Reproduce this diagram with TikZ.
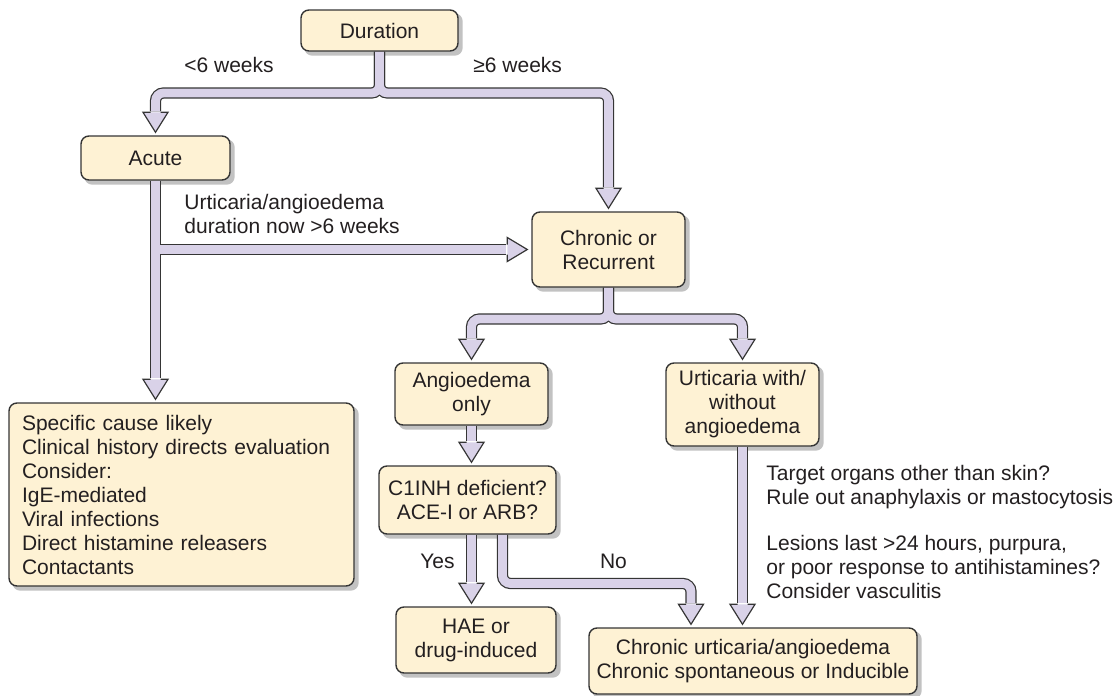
\documentclass[tikz,border=0pt]{standalone}
\usepackage{fontspec}
\setmainfont{Liberation Sans}
\usetikzlibrary{calc}
\definecolor{boxc}{HTML}{FEF2D4}
\definecolor{lav}{HTML}{D9D2E8}
\definecolor{edgec}{HTML}{353535}
\definecolor{txtc}{HTML}{231F20}
\definecolor{shad}{HTML}{C2C2C2}
\pgfdeclarelayer{shadowl}
\pgfdeclarelayer{pipel}
\pgfsetlayers{shadowl,pipel,main}
\tikzset{
  box/.style={draw=edgec, fill=boxc, rounded corners=4pt, line width=0.7pt, text=txtc, align=center, inner sep=0pt},
  lbl/.style={text=txtc, inner sep=0pt},
  pipeout/.style={draw=edgec, line width=5.6pt, rounded corners=4pt},
  pipein/.style={draw=lav, line width=4.4pt, rounded corners=4pt},
  tipline/.style={draw=edgec, line width=0.6pt, line join=miter},
  every node/.style={font=\fontsize{10.5}{12}\selectfont}
}
\newcommand\tipdown[1]{%
  \fill[lav] ($(#1)+(-12.5,-20)$) -- (#1) -- ($(#1)+(12.5,-20)$) -- cycle;
  \draw[tipline] ($(#1)+(-5,-20)$) -- ($(#1)+(-12.5,-20)$) -- (#1) -- ($(#1)+(12.5,-20)$) -- ($(#1)+(5,-20)$);}
\newcommand\tipright[1]{%
  \fill[lav] ($(#1)+(-20,-12)$) -- (#1) -- ($(#1)+(-20,12)$) -- cycle;
  \draw[tipline] ($(#1)+(-20,-5)$) -- ($(#1)+(-20,-12)$) -- (#1) -- ($(#1)+(-20,12)$) -- ($(#1)+(-20,5)$);}
\newcommand\allpipes[1]{%
  \draw[#1] (dur.south) -- (dur.south |- 0,93) -- (tA |- 0,93) -- ($(tA)+(0,-21)$);
  \draw[#1] (dur.south) -- (dur.south |- 0,93) -- (tC |- 0,93) -- ($(tC)+(0,-21)$);
  \draw[#1] (acute.south) -- ($(tO)+(0,-21)$);
  \draw[#1] (jR) -- ($(tR)+(-21,0)$);
  \draw[#1] (chron.south) -- (chron.south |- 0,319) -- (tAn |- 0,319) -- ($(tAn)+(0,-21)$);
  \draw[#1] (chron.south) -- (chron.south |- 0,319) -- (tU |- 0,319) -- ($(tU)+(0,-21)$);
  \draw[#1] (angio.south) -- ($(tCi)+(0,-21)$);
  \draw[#1] (sY) -- ($(tH)+(0,-21)$);
  \draw[#1] (sN) -- (sN |- 0,583.5) -- (tN |- 0,583.5) -- ($(tN)+(0,-21)$);
  \draw[#1] (urt.south) -- ($(tCU)+(0,-21)$);
}
\begin{document}
\begin{tikzpicture}[x=0.5pt,y=-0.5pt]
\useasboundingbox (0,0) rectangle (1120,696);

% boxes
\node[box, minimum width=78.5pt, minimum height=20.5pt] (dur) at (379.5,30.5) {Duration};
\node[box, minimum width=74.5pt, minimum height=22pt] (acute) at (155.5,158) {Acute};
\node[box, minimum width=76.5pt, minimum height=37.5pt] (chron) at (608.5,249.5) {Chronic or\\Recurrent};
\node[box, align=left, text width=159.5pt, inner xsep=6.5pt, minimum height=91.5pt] (aout) at (181.5,494.5)
  {Specific cause likely\\Clinical history directs evaluation\\Consider:\\IgE-mediated\\Viral infections\\Direct histamine releasers\\Contactants};
\node[box, minimum width=76.5pt, minimum height=31pt] (angio) at (471.5,394) {Angioedema\\only};
\node[box, minimum width=76.5pt, minimum height=41.5pt] (urt) at (742.5,404.5) {Urticaria with/\\without\\angioedema};
\node[box, minimum width=88.5pt, minimum height=34pt] (c1inh) at (467.5,500) {C1INH deficient?\\ACE-I or ARB?};
\node[box, minimum width=80pt, minimum height=33pt] (hae) at (476,640) {HAE or\\drug-induced};
\node[box, minimum width=164pt, minimum height=33pt] (cu) at (753,661) {Chronic urticaria/angioedema\\Chronic spontaneous or Inducible};

% labels
\node[lbl, anchor=west] (l6a) at (184,65) {<6 weeks};
\node[lbl, anchor=west] (l6b) at (473,65) {≥6 weeks};
\node[lbl, anchor=west, align=left] (lur) at (184,214) {Urticaria/angioedema\\duration now >6 weeks};
\node[lbl] (lyes) at (437.5,561) {Yes};
\node[lbl] (lno) at (613.5,561) {No};
\node[lbl, anchor=west, align=left] (lright) at (766,531.5) {Target organs other than skin?\\Rule out anaphylaxis or mastocytosis\\[11pt]Lesions last >24 hours, purpura,\\or poor response to antihistamines?\\Consider vasculitis};

% connector coordinates
\coordinate (tA) at ($(acute.north)+(0,-3)$);
\coordinate (tC) at ($(chron.north)+(0,-3)$);
\coordinate (tO) at ($(acute.south |- aout.north)+(0,-3)$);
\coordinate (tR) at ($(chron.west)+(-4,0)$);
\coordinate (jR) at (acute.south |- chron.west);
\coordinate (tAn) at ($(angio.north)+(0,-3)$);
\coordinate (tU) at ($(urt.north)+(0,-3)$);
\coordinate (tCi) at ($(angio.south |- c1inh.north)+(0,-3)$);
\coordinate (sY) at (angio.south |- c1inh.south);
\coordinate (tH) at ($(angio.south |- hae.north)+(0,-3)$);
\coordinate (sN) at ($(c1inh.south)+(35,0)$);
\coordinate (tN) at ($(cu.north)+(-62,-3)$);
\coordinate (tCU) at ($(urt.south |- cu.north)+(0,-3)$);

\begin{pgfonlayer}{shadowl}
  \foreach \n in {dur,acute,chron,aout,angio,urt,c1inh,hae,cu}
    \fill[shad, rounded corners=4pt] ($(\n.south west)+(4,4)$) rectangle ($(\n.north east)+(4,4)$);
\end{pgfonlayer}

\begin{pgfonlayer}{pipel}
  \allpipes{pipeout}
  \allpipes{pipein}
  \tipdown{tA}
  \tipdown{tC}
  \tipdown{tO}
  \tipright{tR}
  \tipdown{tAn}
  \tipdown{tU}
  \tipdown{tCi}
  \tipdown{tH}
  \tipdown{tN}
  \tipdown{tCU}
\end{pgfonlayer}
\end{tikzpicture}
\end{document}
